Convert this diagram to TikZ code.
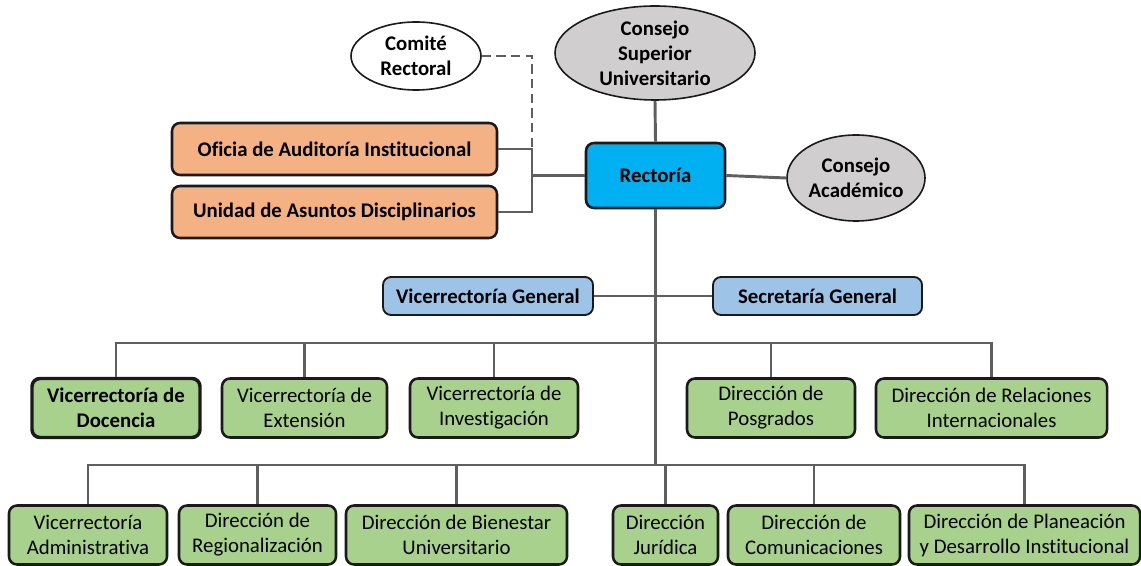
\documentclass[tikz,border=0pt]{standalone}
\usepackage{fontspec}
\setmainfont{Carlito}[Ligatures=NoCommon]
\usetikzlibrary{shapes.geometric}
\definecolor{grn}{HTML}{A9D18E}
\definecolor{org}{HTML}{F4B183}
\definecolor{lblue}{HTML}{9DC3E6}
\definecolor{rcyan}{HTML}{00B0F0}
\definecolor{gry}{HTML}{D0CECE}
\definecolor{lin}{HTML}{5F5F5F}
\definecolor{bdr}{HTML}{1A1A1A}
\newcommand\fs{\fontsize{15.6}{18.8}\selectfont}
\newcommand\pxu{0.75pt}
\begin{document}
\begin{tikzpicture}[x=0.75pt,y=-0.75pt,
  box/.style={draw=bdr, line width=1.9pt, rounded corners=6pt, align=center, inner sep=0pt, font=\fs, minimum height=#1*\pxu},
  gbox/.style={box=59, fill=grn},
  tbox/.style={box=52, fill=org, font=\fs\bfseries},
  bbox/.style={box=38, fill=lblue, font=\fs\bfseries, line width=1.4pt},
  oval/.style={ellipse, draw=bdr, line width=1.2pt, inner sep=0pt, align=center, font=\fs\bfseries},
  conn/.style={draw=lin, line width=2.2pt}]
\useasboundingbox (0,0) rectangle (1141,566);

% top
\node[oval, fill=white, minimum width=130*\pxu, minimum height=68*\pxu] (comite) at (416,56) {Comité\\Rectoral};
\node[oval, fill=gry, minimum width=200*\pxu, minimum height=94*\pxu] (csu) at (655,53) {Consejo\\Superior\\Universitario};
\node[box=65, fill=rcyan, font=\fs\bfseries, minimum width=139*\pxu] (rect) at (655.5,175.5) {Rectoría};
\node[oval, fill=gry, minimum width=138*\pxu, minimum height=86*\pxu] (ca) at (856,178) {Consejo\\Académico};
\node[tbox, minimum width=325*\pxu] (ofi) at (334.5,149) {Oficia de Auditoría Institucional};
\node[tbox, minimum width=325*\pxu] (uni) at (334.5,212) {Unidad de Asuntos Disciplinarios};
\node[bbox, minimum width=210*\pxu] (vg) at (488,296) {Vicerrectoría General};
\node[bbox, minimum width=209*\pxu] (sg) at (817.5,296) {Secretaría General};

% level 1
\node[gbox, line width=2.6pt, font=\fs\bfseries, minimum width=168*\pxu] (doc) at (116,408) {Vicerrectoría de\\Docencia};
\node[gbox, minimum width=165*\pxu] (ext) at (304.5,408) {Vicerrectoría de\\Extensión};
\node[gbox, minimum width=168*\pxu] (inv) at (494,408) {Vicerrectoría de\\Investigación};
\node[gbox, minimum width=168*\pxu] (pos) at (771,408) {Dirección de\\Posgrados};
\node[gbox, minimum width=231*\pxu] (rel) at (991.5,408) {Dirección de Relaciones\\Internacionales};

% level 2
\node[gbox, minimum width=158*\pxu] (adm) at (88,535) {Vicerrectoría\\Administrativa};
\node[gbox, minimum width=157*\pxu] (reg) at (257.5,535) {Dirección de\\Regionalización};
\node[gbox, minimum width=221*\pxu] (bie) at (456.5,535) {Dirección de Bienestar\\Universitario};
\node[gbox, minimum width=105*\pxu] (jur) at (665.5,535) {Dirección\\Jurídica};
\node[gbox, minimum width=172*\pxu] (com) at (814,535) {Dirección de\\Comunicaciones};
\node[gbox, minimum width=231*\pxu] (pla) at (1024.5,535) {Dirección de Planeación\\y Desarrollo Institucional};

% helper coordinates
\coordinate (bx) at (532,0);
\coordinate (b1) at (0,343);
\coordinate (b2) at (0,465);

% connectors
\draw[conn] (csu.south) -- (rect.north);
\draw[conn] (rect.east) -- (ca.west);
\draw[conn] (rect.west) -- (rect.west -| bx);
\draw[conn] (ofi.east) -| (bx |- uni.east) -- (uni.east);
\draw[conn, dash pattern=on 7pt off 4pt] (comite.east) -| (bx |- ofi.east);
\draw[conn] (rect.south) -- (rect.south |- b2);
\draw[conn] (vg.east) -- (sg.west);
\draw[conn] (doc.north) |- (rel.north |- b1) -- (rel.north);
\draw[conn] (ext.north) -- (ext.north |- b1);
\draw[conn] (inv.north) -- (inv.north |- b1);
\draw[conn] (pos.north) -- (pos.north |- b1);
\draw[conn] (adm.north) |- (pla.north |- b2) -- (pla.north);
\draw[conn] (reg.north) -- (reg.north |- b2);
\draw[conn] (bie.north) -- (bie.north |- b2);
\draw[conn] (jur.north) -- (jur.north |- b2);
\draw[conn] (com.north) -- (com.north |- b2);
\end{tikzpicture}
\end{document}
